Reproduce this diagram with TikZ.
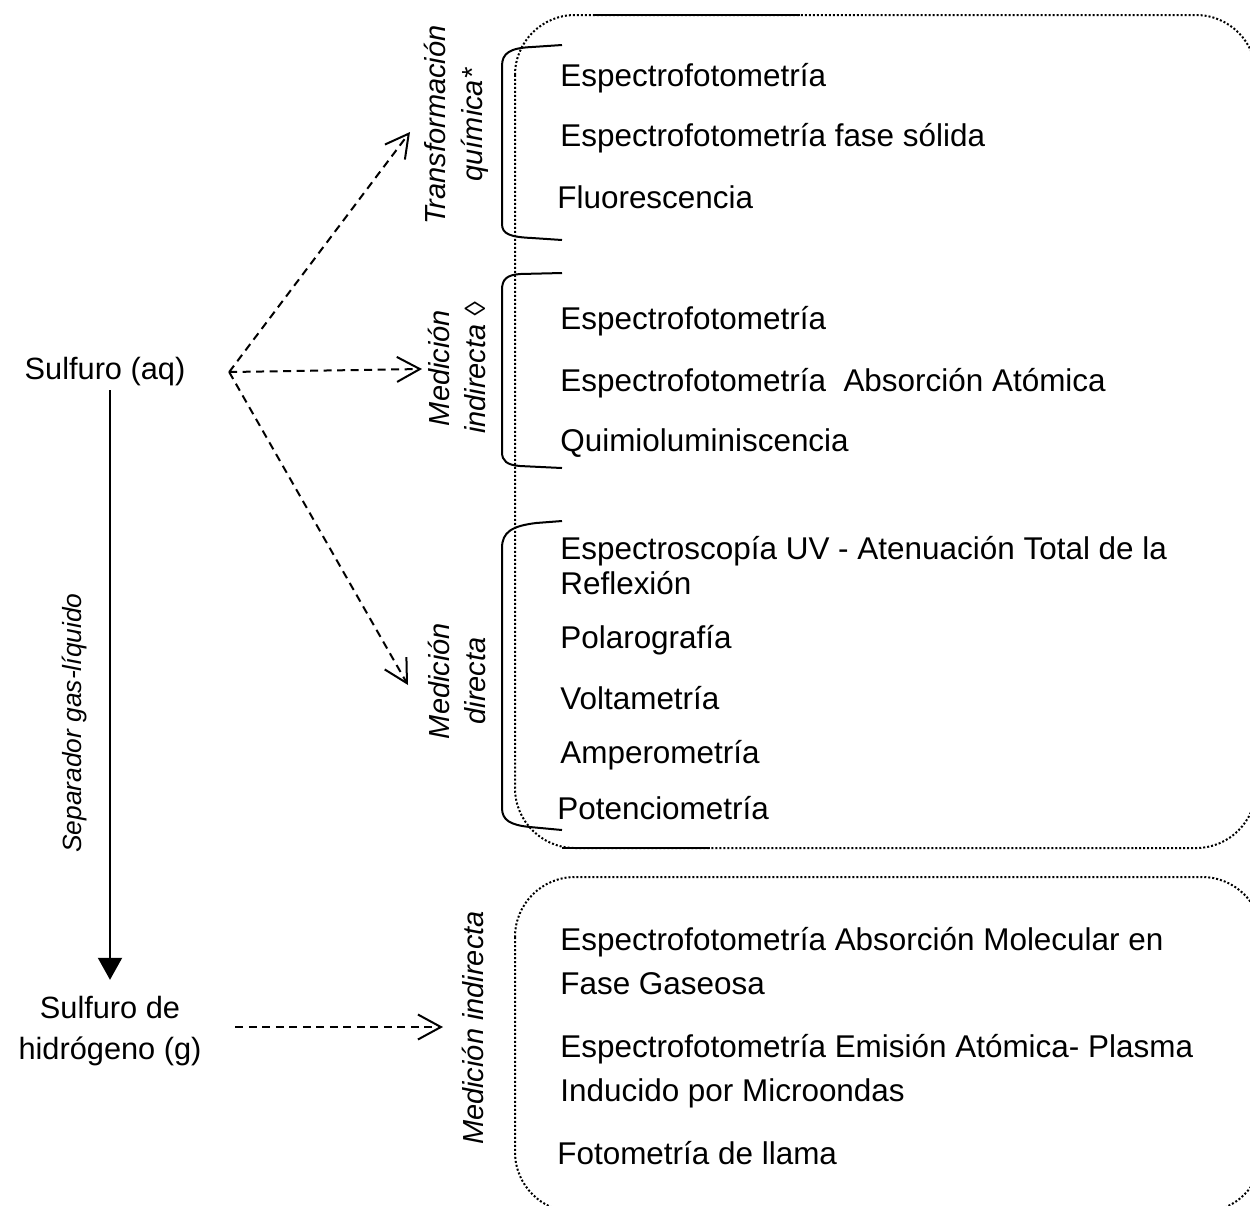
\documentclass[tikz,border=0pt]{standalone}
\usepackage{fontspec}
\setmainfont{Liberation Sans}
\usetikzlibrary{arrows.meta, positioning}

\begin{document}
\begin{tikzpicture}[
  x=0.02cm, y=-0.02cm,
  item/.style={anchor=base west, inner sep=0pt, align=left,
               font=\fontsize{17.9}{20}\selectfont},
  tag/.style={rotate=90, align=center, inner sep=1pt,
              font=\fontsize{16.5}{21}\selectfont\itshape},
  src/.style={align=center, inner sep=2pt,
              font=\fontsize{17.5}{22.8}\selectfont},
  dasharr/.style={-{Straight Barb[length=0.46cm,width=0.5cm]},
                  line width=0.04cm, dash pattern=on 0.16cm off 0.11cm},
  solidarr/.style={-{Triangle[length=0.44cm,width=0.48cm]}, line width=0.04cm},
  brace/.style={line width=0.04cm},
  group/.style={line width=0.04cm, dash pattern=on 0.04cm off 0.04cm,
                rounded corners=1.2cm}
]
\useasboundingbox (0,0) rectangle (1250,1205);
\clip (0,0) rectangle (1250,1205);

% grupos
\draw[group] (515,15) rectangle (1256,848);
\draw[group] (515,877) rectangle (1262,1212);
\draw[brace] (595,15) -- (800,15);
\draw[brace] (562,848) -- (710,848);

% fuentes
\node[src] (aq) at (105,372) {Sulfuro (aq)};
\node[src] (hs) at (110,1031) {Sulfuro de\\hidrógeno (g)};
\coordinate[right=0.8cm of aq] (fork);

% etiquetas
\node[tag] (tq)   at (456,125)  {Transformación\\química*};
\node[tag] (mi)   at (457,368)  {Medición\\indirecta ◊};
\node[tag] (md)   at (457,681)  {Medición\\directa};
\node[tag] (mind) at (473,1028) {Medición indirecta};
\node[tag, font=\fontsize{15}{18}\selectfont\itshape] (sep) at (75,723) {Separador gas-líquido};

\coordinate (t1) at (410,132);
\coordinate (t2) at (422,369);
\coordinate (t3) at (408,685);
\coordinate (t4) at (443,1027);

% llaves
\draw[brace] (562,45) -- (532,47) .. controls (510,48) and (502,53) .. (502,66)
  -- (502,224) .. controls (502,234) and (510,237) .. (532,238) -- (562,240);
\draw[brace] (562,273) -- (520,274) .. controls (507,275) and (502,279) .. (502,290)
  -- (502,452) .. controls (502,461) and (507,465) .. (520,466) -- (562,468);
\draw[brace] (562,521) -- (536,523) .. controls (512,526) and (502,532) .. (502,548)
  -- (502,808) .. controls (502,820) and (510,825) .. (530,827) -- (562,830);

% métodos
\node[item] (tq1) at (560,86)  {Espectrofotometría};
\node[item] (tq2) at (560,146) {Espectrofotometría fase sólida};
\node[item] (tq3) at (557,208) {Fluorescencia};
\node[item] (mi1) at (560,329) {Espectrofotometría};
\node[item] (mi2) at (560,391) {Espectrofotometría~\ Absorción Atómica};
\node[item] (mi3) at (560,451) {Quimioluminiscencia};
\node[item, font=\fontsize{17.9}{19.9}\selectfont] (md1) at (560,594)
  {Espectroscopía UV - Atenuación Total de la\\Reflexión};
\node[item] (md2) at (560,648) {Polarografía};
\node[item] (md3) at (560,709) {Voltametría};
\node[item] (md4) at (560,763) {Amperometría};
\node[item] (md5) at (557,819) {Potenciometría};
\node[item, font=\fontsize{17.9}{24.5}\selectfont] (gi1) at (560,994)
  {Espectrofotometría Absorción Molecular en\\Fase Gaseosa};
\node[item, font=\fontsize{17.9}{24.5}\selectfont] (gi2) at (560,1101)
  {Espectrofotometría Emisión Atómica- Plasma\\Inducido por Microondas};
\node[item] (gi3) at (557,1164) {Fotometría de llama};

% flechas
\draw[solidarr, shorten >=0.26cm] (hs.north |- aq.south) -- (hs.north);
\draw[dasharr] (fork) -- (t1);
\draw[dasharr] (fork) -- (t2);
\draw[dasharr] (fork) -- (t3);
\draw[dasharr, shorten <=0.6cm] (hs.east |- t4) -- (t4);
\end{tikzpicture}
\end{document}
